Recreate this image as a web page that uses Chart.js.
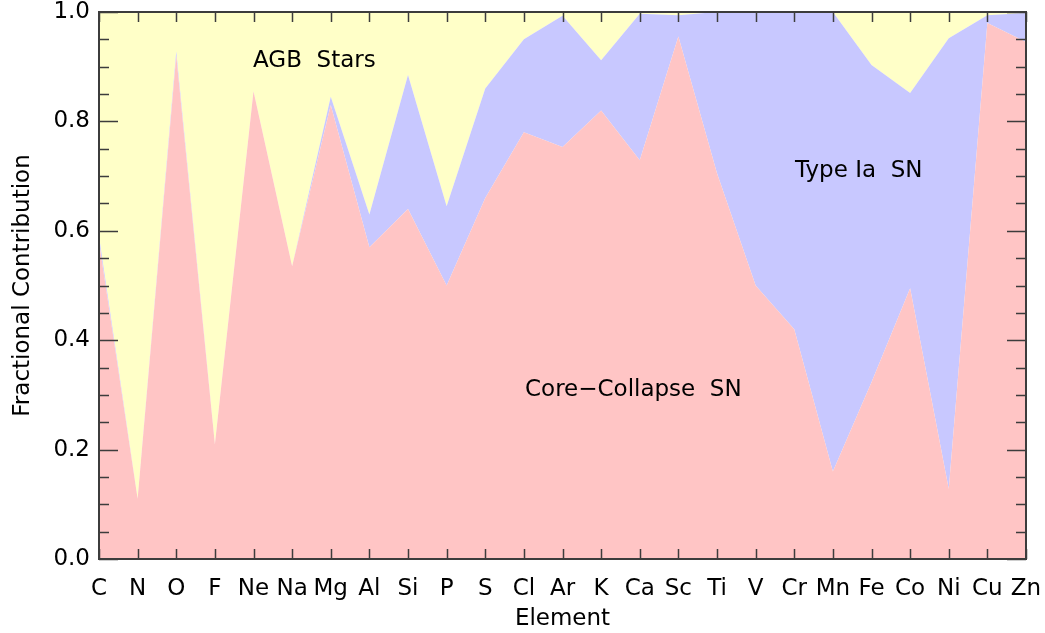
<!DOCTYPE html>
<html>
<head>
<meta charset="utf-8">
<script src="https://cdn.jsdelivr.net/npm/chart.js@4.4.1/dist/chart.umd.min.js"></script>
<style>
  html, body { margin: 0; padding: 0; background: #ffffff; }
  #wrap { width: 1045px; height: 633px; position: relative; }
</style>
</head>
<body>
<div id="wrap"><canvas id="c" width="1045" height="633"></canvas></div>
<script>
// ---- data ----
const elements = ['C','N','O','F','Ne','Na','Mg','Al','Si','P','S','Cl','Ar','K','Ca','Sc','Ti','V','Cr','Mn','Fe','Co','Ni','Cu','Zn'];
const coreCollapse = [0.58,0.11,0.92,0.21,0.855,0.535,0.83,0.57,0.64,0.50,0.66,0.78,0.753,0.82,0.729,0.955,0.705,0.50,0.42,0.16,0.323,0.495,0.128,0.98,0.945];
const typeIa       = [0.01,0.00,0.008,0.00,0.00,0.00,0.015,0.06,0.245,0.145,0.20,0.17,0.24,0.092,0.268,0.039,0.295,0.50,0.58,0.84,0.58,0.357,0.824,0.014,0.053];
const agbStars     = [0.41,0.89,0.072,0.79,0.145,0.465,0.155,0.37,0.115,0.355,0.14,0.05,0.007,0.088,0.003,0.006,0.0,0.0,0.0,0.0,0.097,0.148,0.048,0.006,0.002];
const yTickValues  = [0.0,0.2,0.4,0.6,0.8,1.0];

const FONT = "'DejaVu Sans', sans-serif";
const FSIZE = 23;
const FWEIGHT = 'normal';
const COL_CC = 'rgb(255,197,197)';
const COL_IA = 'rgb(200,200,255)';
const COL_AGB = 'rgb(255,255,200)';

const annotations = {
  id: 'annotations',
  afterDraw(chart) {
    const ctx = chart.ctx;
    const xs = chart.scales.x, ys = chart.scales.y;
    const a = chart.chartArea;
    ctx.save();
    // frame
    ctx.strokeStyle = '#3c3c3c';
    ctx.lineWidth = 2;
    ctx.strokeRect(a.left, a.top, a.right - a.left, a.bottom - a.top);
    ctx.lineWidth = 1.5;
    ctx.beginPath();
    // x ticks (inward, bottom and top)
    elements.forEach((e, i) => {
      const px = Math.round(xs.getPixelForValue(i)) + 0.5;
      ctx.moveTo(px, a.bottom); ctx.lineTo(px, a.bottom - 10);
      ctx.moveTo(px, a.top); ctx.lineTo(px, a.top + 10);
    });
    // y ticks: major 0.2, minor 0.05
    for (let k = 0; k <= 20; k++) {
      const v = k * 0.05;
      const py = Math.round(ys.getPixelForValue(v)) + 0.5;
      const len = (k % 4 === 0) ? 19 : 10;
      ctx.moveTo(a.left, py); ctx.lineTo(a.left + len, py);
      ctx.moveTo(a.right, py); ctx.lineTo(a.right - len, py);
    }
    ctx.stroke();
    // region labels
    ctx.fillStyle = '#000';
    ctx.font = FWEIGHT + ' ' + FSIZE + 'px ' + FONT;
    ctx.textBaseline = 'alphabetic';
    ctx.textAlign = 'left';
    ctx.fillText('AGB  Stars', 253, 67);
    ctx.fillText('Type Ia  SN', 795, 177);
    ctx.fillText('Core\u2212Collapse  SN', 525, 396);
    ctx.restore();
  }
};

const tickFont = { family: FONT, size: FSIZE, weight: FWEIGHT };

new Chart(document.getElementById('c'), {
  type: 'line',
  data: {
    labels: elements,
    datasets: [
      { label: 'Core-Collapse SN', data: coreCollapse, backgroundColor: COL_CC, borderWidth: 0, pointRadius: 0, fill: 'origin' },
      { label: 'Type Ia SN', data: typeIa, backgroundColor: COL_IA, borderWidth: 0, pointRadius: 0, fill: '-1' },
      { label: 'AGB Stars', data: agbStars, backgroundColor: COL_AGB, borderWidth: 0, pointRadius: 0, fill: '-1' }
    ]
  },
  options: {
    responsive: false,
    animation: false,
    events: [],
    elements: { line: { tension: 0 } },
    layout: { padding: { top: 12, right: 19, left: 0, bottom: 0 } },
    plugins: { legend: { display: false }, tooltip: { enabled: false } },
    scales: {
      x: {
        type: 'category',
        offset: false,
        grid: { display: false, drawTicks: false },
        border: { display: false },
        ticks: { color: '#000', font: tickFont, padding: 16, maxRotation: 0, autoSkip: false },
        title: { display: true, text: 'Element', color: '#000', font: tickFont, padding: { top: 0, bottom: 0 } },
        afterFit(s) { s.height = 74; s.paddingLeft = 0; s.paddingRight = 0; }
      },
      y: {
        stacked: true,
        min: 0, max: 1,
        afterBuildTicks(s) { s.ticks = yTickValues.map(v => ({ value: v })); },
        grid: { display: false, drawTicks: false },
        border: { display: false },
        ticks: { color: '#000', font: tickFont, padding: 9, callback: v => Number(v).toFixed(1) },
        title: { display: true, text: 'Fractional Contribution', color: '#000', font: tickFont, padding: { top: 9, bottom: 0 } },
        afterFit(s) { s.width = 99; s.paddingTop = 0; s.paddingBottom = 0; }
      }
    }
  },
  plugins: [annotations]
});
</script>
</body>
</html>
